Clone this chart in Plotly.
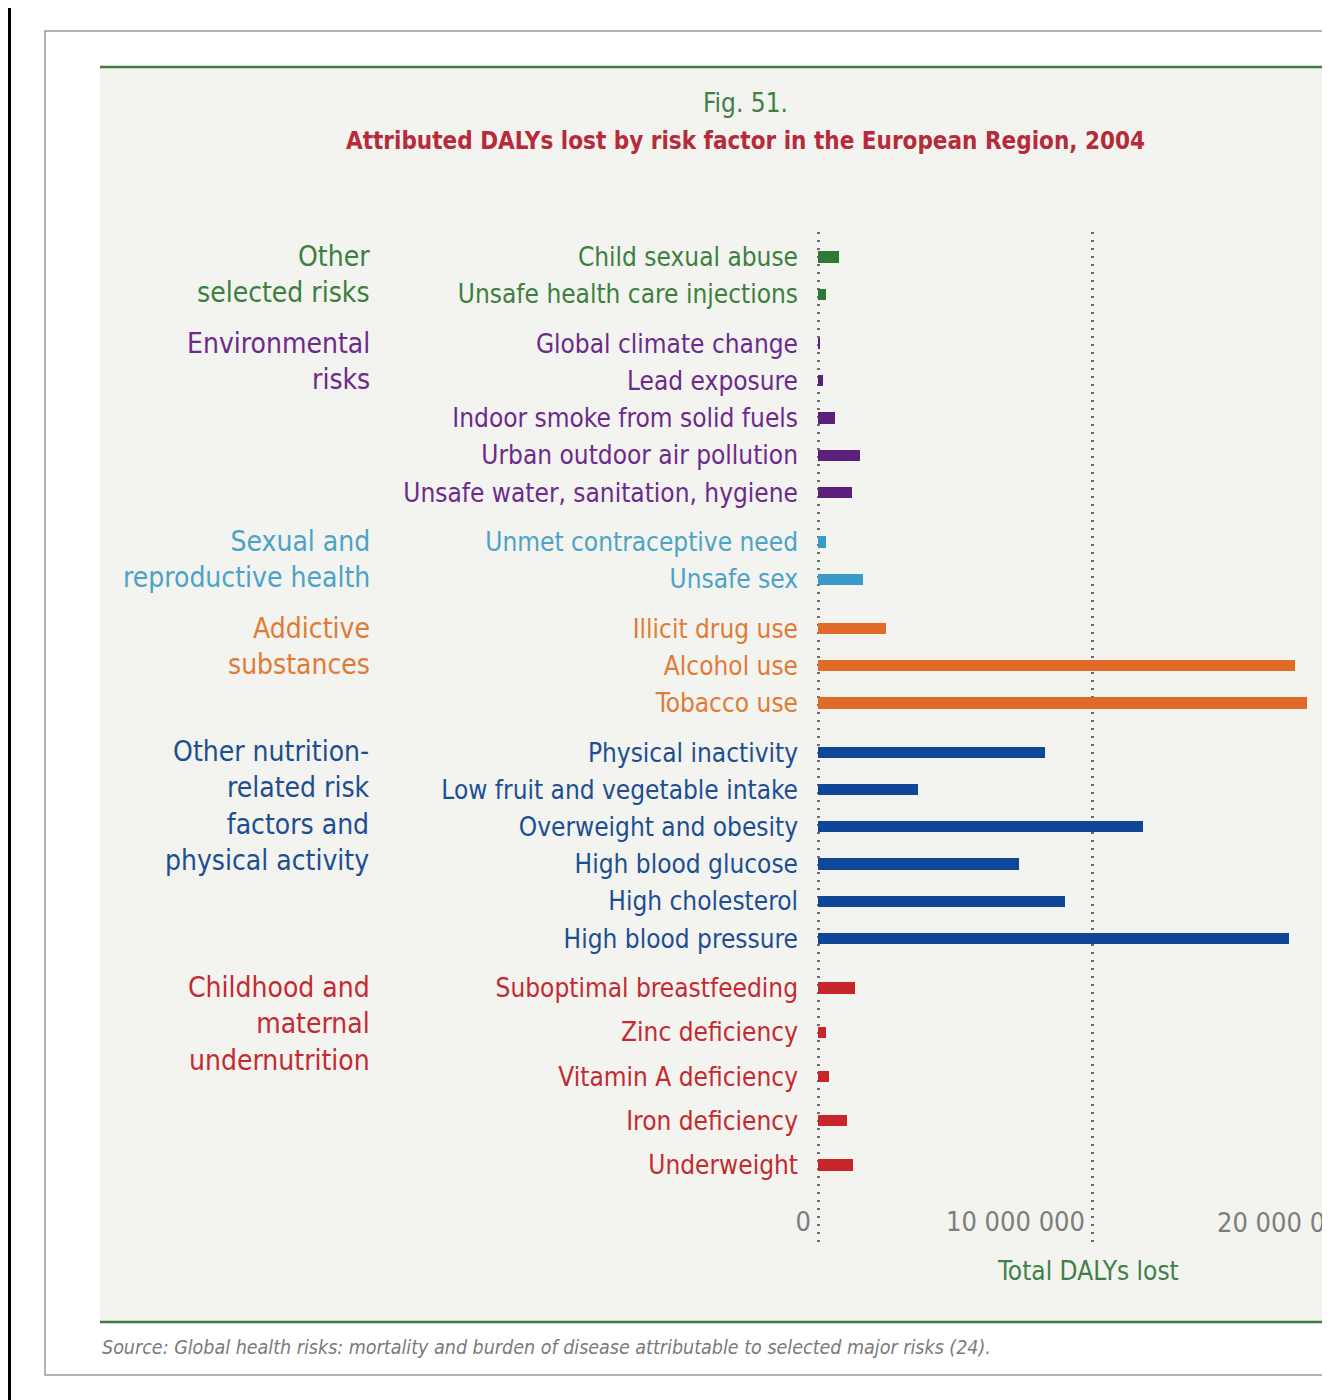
import plotly.graph_objects as go

# ---------------- data ----------------
group_names = [
    "Other<br>selected risks",
    "Environmental<br>risks",
    "Sexual and<br>reproductive health",
    "Addictive<br>substances",
    "Other nutrition-<br>related risk<br>factors and<br>physical activity",
    "Childhood and<br>maternal<br>undernutrition",
]

other_labels = ["Child sexual abuse", "Unsafe health care injections"]
other_values = [780000, 310000]

env_labels = ["Global climate change", "Lead exposure", "Indoor smoke from solid fuels",
              "Urban outdoor air pollution", "Unsafe water, sanitation, hygiene"]
env_values = [90000, 190000, 610000, 1540000, 1230000]

sex_labels = ["Unmet contraceptive need", "Unsafe sex"]
sex_values = [300000, 1660000]

addict_labels = ["Illicit drug use", "Alcohol use", "Tobacco use"]
addict_values = [2490000, 17400000, 17840000]

nutr_labels = ["Physical inactivity", "Low fruit and vegetable intake", "Overweight and obesity",
               "High blood glucose", "High cholesterol", "High blood pressure"]
nutr_values = [8280000, 3660000, 11870000, 7330000, 9010000, 17200000]

child_labels = ["Suboptimal breastfeeding", "Zinc deficiency", "Vitamin A deficiency",
                "Iron deficiency", "Underweight"]
child_values = [1350000, 310000, 410000, 1040000, 1260000]

x_tick_vals = [0, 10000000, 20000000]
x_tick_text = ["0", "10 000 000", "20 000 000"]

# ---------------- styles ----------------
text_colors = ["#3c7f3e", "#6b2a8c", "#4ba3c7", "#e07b35", "#1d4e92", "#c42a30"]
bar_colors = ["#2f7a33", "#5b1f7c", "#3a9bc9", "#e06a27", "#0f4696", "#c6252a"]
row_steps = [1.0, 1.0, 1.0, 1.0, 1.0, 1.19]
group_gap = 1.33

FONT = "DejaVu Sans Condensed, DejaVu Sans, sans-serif"
W, H = 1330, 1400
OFF = 8  # page body margin


def px(x):
    return (x - OFF) / W


def py(y):
    return 1 - (y - OFF) / H


groups = [
    (other_labels, other_values),
    (env_labels, env_values),
    (sex_labels, sex_values),
    (addict_labels, addict_values),
    (nutr_labels, nutr_values),
    (child_labels, child_values),
]

fig = go.Figure()
tickvals, ticktext, group_first = [], [], []
pos = 0.0
for gi, (labels, values) in enumerate(groups):
    if gi > 0:
        pos += group_gap - 1.0
    ys = []
    for k in range(len(labels)):
        if k > 0 or gi > 0:
            pos += row_steps[gi] if k > 0 else 1.0
        ys.append(pos)
    group_first.append(ys[0])
    fig.add_trace(go.Bar(
        x=values, y=ys, orientation="h", width=0.3,
        marker=dict(color=bar_colors[gi], line=dict(width=0)),
        showlegend=False, hoverinfo="x+y",
    ))
    tickvals += ys
    ticktext += [f'<span style="color:{text_colors[gi]}">{t}</span>' for t in labels]

# group labels
for gi, name in enumerate(group_names):
    fig.add_annotation(
        x=px(372), xref="paper", xanchor="right",
        y=group_first[gi], yref="y", yanchor="top", yshift=19,
        text=name, align="right", showarrow=False,
        font=dict(family=FONT, size=28, color=text_colors[gi]),
    )

# x scale (pixels in reference frame)
X0_PX = 818
PX_PER_UNIT = 274 / 10000000

# 20 000 000 label that runs off the page edge
fig.add_annotation(
    x=px(X0_PX + x_tick_vals[2] * PX_PER_UNIT), xref="paper", xanchor="right", xshift=-8,
    y=py(1222), yref="paper", yanchor="middle",
    text=x_tick_text[2], showarrow=False,
    font=dict(family=FONT, size=27, color="#7d7d7d"),
)

# titles
fig.add_annotation(x=px(745), y=py(103), xref="paper", yref="paper", showarrow=False,
                   xanchor="center", yanchor="middle",
                   text="Fig. 51.", font=dict(family=FONT, size=26, color="#3f8048"))
fig.add_annotation(x=px(745), y=py(141), xref="paper", yref="paper", showarrow=False,
                   xanchor="center", yanchor="middle",
                   text="<b>Attributed DALYs lost by risk factor in the European Region, 2004</b>",
                   font=dict(family=FONT, size=24, color="#b72a3a"))
fig.add_annotation(x=px(1088), y=py(1271), xref="paper", yref="paper", showarrow=False,
                   xanchor="center", yanchor="middle",
                   text="Total DALYs lost", font=dict(family=FONT, size=26, color="#3f8048"))
fig.add_annotation(x=px(100), y=py(1347), xref="paper", yref="paper", xanchor="left",
                   yanchor="middle", showarrow=False,
                   text="<i>Source: Global health risks: mortality and burden of disease attributable to selected major risks (24).</i>",
                   font=dict(family=FONT, size=19.5, color="#7a7a7a"))

# background decorations
shapes = [
    dict(type="rect", x0=px(0), x1=px(11), y0=py(1400), y1=py(0), fillcolor="#000000", line=dict(width=0)),
    dict(type="rect", x0=px(45), x1=px(1345), y0=py(1375), y1=py(31), fillcolor="#ffffff",
         line=dict(color="#9a9a9a", width=1.5)),
    dict(type="rect", x0=px(100), x1=px(1345), y0=py(1322), y1=py(67), fillcolor="#f3f3ef",
         line=dict(width=0)),
    dict(type="line", x0=px(100), x1=1, y0=py(67), y1=py(67), line=dict(color="#3f7a3f", width=2.5)),
    dict(type="line", x0=px(100), x1=1, y0=py(1322), y1=py(1322), line=dict(color="#3f7a3f", width=2.5)),
]
for s in shapes:
    s.update(xref="paper", yref="paper", layer="below")
fig.update_layout(shapes=shapes)

# x axis spans from a little left of zero to the page edge
x_left_px, x_right_px = 790, W + OFF
x_min = (x_left_px - X0_PX) / PX_PER_UNIT
x_max = (x_right_px - X0_PX) / PX_PER_UNIT

first_y, last_y = 257, 1165
unit = (last_y - first_y) / pos
top_px, bot_px = 232, 1242
y_top = (top_px - first_y) / unit
y_bot = (bot_px - first_y) / unit

fig.update_layout(
    width=W, height=H,
    margin=dict(l=0, r=0, t=0, b=0),
    paper_bgcolor="#ffffff",
    plot_bgcolor="rgba(0,0,0,0)",
    separators=". ",
    bargap=0,
    xaxis=dict(
        domain=[px(x_left_px), 1], range=[x_min, x_max],
        tickvals=x_tick_vals[:2], ticktext=x_tick_text[:2],
        ticklabelposition="inside left", ticks="", ticklabelshift=-7,
        tickfont=dict(family=FONT, size=27, color="#7d7d7d"),
        showgrid=True, gridcolor="#6f6f6f", gridwidth=2.5, griddash="2px,6px",
        zeroline=False, showline=False,
    ),
    yaxis=dict(
        anchor="free", position=px(X0_PX),
        domain=[py(bot_px), py(top_px)],
        range=[y_bot, y_top],
        tickvals=tickvals, ticktext=ticktext, ticks="",
        ticklabelstandoff=20,
        tickfont=dict(family=FONT, size=26),
        showgrid=False, zeroline=False, showline=False,
    ),
)

fig.write_html("out.html")
